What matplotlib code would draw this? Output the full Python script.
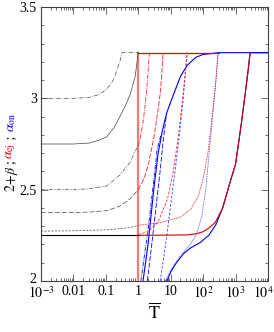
import matplotlib
matplotlib.use("Agg")
import matplotlib.pyplot as plt
import matplotlib.transforms as mtransforms
from matplotlib.ticker import FixedLocator, MultipleLocator, LogLocator, NullFormatter

plt.rcParams["font.family"] = ["Liberation Serif", "DejaVu Serif"]
plt.rcParams["mathtext.fontset"] = "stix"

# black curves, 2+beta for T < 1
Ta = [1e-3, 0.01, 0.03, 0.06, 0.107, 0.17, 0.27, 0.31, 1.0]
Va = [3.0, 3.0, 3.005, 3.02, 3.05, 3.10, 3.20, 3.25, 3.25]
Tb = [1e-3, 0.01, 0.03, 0.06, 0.107, 0.18, 0.27, 0.4, 0.56, 0.8, 1.0]
Vb = [2.75, 2.75, 2.755, 2.77, 2.79, 2.84, 2.90, 2.96, 3.02, 3.12, 3.25]
Tc = [1e-3, 0.01, 0.03, 0.107, 0.27, 0.56, 0.8, 1.0]
Vc = [2.50, 2.50, 2.505, 2.52, 2.58, 2.65, 2.71, 2.74]
Td = [1e-3, 0.01, 0.03, 0.107, 0.27, 0.56, 0.8, 1.0]
Vd = [2.375, 2.375, 2.377, 2.385, 2.41, 2.45, 2.48, 2.50]
Te = [1e-3, 0.01, 0.1, 0.3, 0.56, 0.8, 1.0]
Ve = [2.273, 2.275, 2.28, 2.287, 2.293, 2.30, 2.305]
Tf = [1e-3, 1.0]
Vf = [2.25, 2.25]

# red curves, alpha_ej
Tr0 = [1.0, 1.0]
Vr0 = [2.0, 3.25]
Tr1 = [1.0, 300.0]
Vr1 = [3.25, 3.25]
Tr2 = [1.0, 1.2, 1.4, 1.6, 1.8, 2.0, 2.2]
Vr2 = [2.74, 2.80, 2.87, 2.95, 3.04, 3.14, 3.25]
Tr3 = [1.0, 1.5, 2.0, 3.0, 4.0, 4.7, 5.3, 5.8]
Vr3 = [2.50, 2.56, 2.63, 2.78, 2.93, 3.02, 3.13, 3.25]
Tr4 = [1.0, 2.0, 4.0, 8.0, 12.0, 18.0, 24.0, 32.0]
Vr4 = [2.255, 2.27, 2.32, 2.45, 2.60, 2.82, 3.02, 3.25]
Tr5 = [1.0, 5.0, 20.0, 40.0, 70.0, 100.0, 140.0, 190.0, 240.0, 290.0]
Vr5 = [2.305, 2.32, 2.35, 2.39, 2.46, 2.56, 2.70, 2.90, 3.08, 3.25]
Tr6 = [1.0, 30.0, 60.0, 100.0, 150.0, 235.0, 400.0, 700.0, 1000.0, 1500.0, 2000.0, 2500.0, 2800.0]
Vr6 = [2.25, 2.252, 2.258, 2.27, 2.29, 2.32, 2.40, 2.55, 2.64, 2.86, 3.03, 3.17, 3.25]

# blue curves, alpha_on
Tb1 = [1.4, 2.0, 3.0, 4.1, 5.5, 7.5, 11.0, 20.0, 32.0, 60.0, 100.0, 300.0, 1e4]
Vb1 = [2.0, 2.2, 2.5, 2.7, 2.82, 2.92, 3.0, 3.12, 3.18, 3.225, 3.24, 3.25, 3.25]
Tb2 = [1.2, 2.0, 3.0, 3.8, 5.0]
Vb2 = [2.0, 2.28, 2.55, 2.72, 2.80]
Tb3 = [1.9, 2.6, 3.6, 4.7, 5.8, 7.5]
Vb3 = [2.0, 2.2, 2.42, 2.6, 2.76, 2.92]
Tb4 = [4.7, 6.0, 7.7, 10.0, 14.0, 19.0, 24.0, 28.0, 32.0]
Vb4 = [2.0, 2.12, 2.26, 2.42, 2.62, 2.82, 2.99, 3.12, 3.25]
Tb5 = [6.8, 10.0, 20.0, 40.0, 60.0, 90.0, 120.0, 150.0, 200.0, 250.0, 290.0]
Vb5 = [2.0, 2.06, 2.14, 2.20, 2.25, 2.35, 2.50, 2.68, 2.92, 3.10, 3.25]
Tb6 = [7.7, 10.0, 15.0, 25.0, 40.0, 80.0, 150.0, 250.0, 400.0, 700.0, 1000.0, 1500.0, 2000.0, 2500.0, 2800.0, 1e4]
Vb6 = [2.0, 2.05, 2.10, 2.15, 2.18, 2.21, 2.25, 2.31, 2.40, 2.55, 2.64, 2.86, 3.03, 3.17, 3.25, 3.25]

xticks = [1e-3, 1e-2, 1e-1, 1, 10, 100, 1e3, 1e4]
xticklabels = [r"$10^{-3}$", "0.01", "0.1", "1", "10", r"$10^{2}$", r"$10^{3}$", r"$10^{4}$"]
yticks = [2, 2.5, 3, 3.5]
yticklabels = ["2", "2.5", "3", "3.5"]

fig = plt.figure(figsize=(2.74, 3.32), dpi=100)
ax = fig.add_axes([41 / 274, 51 / 332, 227 / 274, 274 / 332])

lw = 0.6
# blue first, red and black over it
ax.plot(Tb1, Vb1, color="#0000ff", lw=0.8)
ax.plot(Tb2, Vb2, color="#0000ff", lw=lw, dashes=[5, 1.5, 1, 1.5])
ax.plot(Tb3, Vb3, color="#0000ff", lw=lw, dashes=[6, 2])
ax.plot(Tb4, Vb4, color="#3a3aff", lw=lw, dashes=[3, 2])
ax.plot(Tb5, Vb5, color="#3a3aff", lw=lw, dashes=[1, 1])
ax.plot(Tb6, Vb6, color="#0000ff", lw=0.8)

ax.plot(Tr0, Vr0, color="#ff7878", lw=1.6)
ax.plot(Tr1, Vr1, color="#e00000", lw=0.9)
ax.plot(Tr2, Vr2, color="#ff2020", lw=lw, dashes=[5, 1.5, 1, 1.5])
ax.plot(Tr3, Vr3, color="#ff2020", lw=lw, dashes=[6, 2])
ax.plot(Tr4, Vr4, color="#ff2020", lw=lw, dashes=[3, 2])
ax.plot(Tr5, Vr5, color="#e00000", lw=lw, dashes=[1, 1])
ax.plot(Tr6, Vr6, color="#d00000", lw=0.8)

ax.plot(Ta, Va, color="#444444", lw=0.5, dashes=[6, 2, 1, 2])
ax.plot(Tb, Vb, color="#444444", lw=0.5)
ax.plot(Tc, Vc, color="#444444", lw=0.5, dashes=[5, 1.5, 1, 1.5, 1, 1.5])
ax.plot(Td, Vd, color="#444444", lw=0.5, dashes=[7, 3])
ax.plot(Te, Ve, color="#444444", lw=0.5, dashes=[3, 2])
ax.plot(Tf, Vf, color="black", lw=0.8)

ax.set_xscale("log")
ax.set_xlim(1e-3, 1e4)
ax.set_ylim(2, 3.5)
ax.xaxis.set_major_locator(FixedLocator(xticks))
ax.set_xticklabels(xticklabels)
ax.xaxis.set_minor_locator(LogLocator(base=10, subs=range(2, 10), numticks=20))
ax.xaxis.set_minor_formatter(NullFormatter())
ax.yaxis.set_major_locator(FixedLocator(yticks))
ax.set_yticklabels(yticklabels)
ax.yaxis.set_minor_locator(MultipleLocator(0.1))
ax.tick_params(which="both", direction="in", top=True, right=True, labelsize=10, width=0.6, color="#555555")
ax.tick_params(which="major", length=5, pad=3)
ax.tick_params(which="minor", length=2.5)
for s in ax.spines.values():
    s.set_linewidth(0.8)
    s.set_color("#444444")

# keep the last x tick label inside the canvas, lift the bottom y label a little
last = ax.get_xticklabels()[-1]
last.set_transform(last.get_transform() + mtransforms.ScaledTranslation(-5 / 100, 0, fig.dpi_scale_trans))
first = ax.get_yticklabels()[0]
first.set_transform(first.get_transform() + mtransforms.ScaledTranslation(0, 3 / 100, fig.dpi_scale_trans))

ax.set_xlabel(r"$\overline{\mathrm{T}}$", fontsize=13, labelpad=1)

# multicoloured y label, stacked bottom to top
pieces = [r"$2\!+\!\beta$ ; ", r"$\alpha_{\rm ej}$", " ; ", r"$\alpha_{\rm on}$"]
colors = ["black", "red", "black", "blue"]
renderer = fig.canvas.get_renderer()
y = 140 / 332
x = 11 / 274
for txt, c in zip(pieces, colors):
    t = fig.text(x, y, txt, color=c, rotation=90, ha="center", va="bottom", fontsize=10)
    bb = t.get_window_extent(renderer=renderer)
    y += bb.height / fig.bbox.height

fig.savefig("out.png", dpi=100)
